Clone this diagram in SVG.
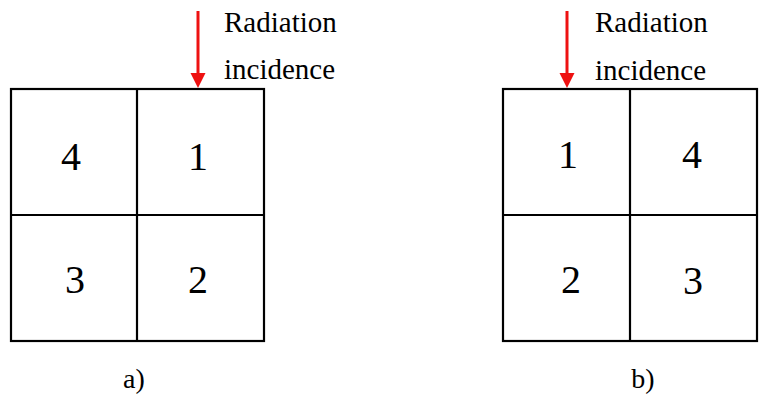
<svg xmlns="http://www.w3.org/2000/svg" width="759" height="394" viewBox="0 0 759 394">
  <style>
    .grid { fill: none; stroke: #000; stroke-width: 2.2; }
    .num { font-size: 40px; fill: #000; text-anchor: middle; }
    .lbl { font-size: 29px; fill: #000; }
    .cap { font-size: 28px; fill: #000; text-anchor: middle; }
    .ray { stroke: #ee1111; stroke-width: 3; }
    .head { fill: #ee1111; }
  </style>
  <rect width="759" height="394" fill="#fff"/>

  <!-- panel a: detector quadrants, beam on quadrant 1 (top right) -->
  <g id="panel-a" font-family="Liberation Serif, DejaVu Serif, serif">
    <rect class="grid" x="11" y="89" width="253" height="252"/>
    <line class="grid" x1="137" y1="89" x2="137" y2="341"/>
    <line class="grid" x1="11" y1="215" x2="264" y2="215"/>
    <text class="num" x="71" y="170">4</text>
    <text class="num" x="198" y="170">1</text>
    <text class="num" x="75" y="293">3</text>
    <text class="num" x="198" y="293">2</text>
    <text class="lbl" x="224" y="32">Radiation</text>
    <text class="lbl" x="224" y="79">incidence</text>
    <text class="cap" x="134" y="388">a)</text>
  </g>

  <!-- panel b: detector quadrants, beam on quadrant 1 (top left) -->
  <g id="panel-b" font-family="Liberation Serif, DejaVu Serif, serif">
    <rect class="grid" x="503" y="89" width="254" height="252"/>
    <line class="grid" x1="630" y1="89" x2="630" y2="341"/>
    <line class="grid" x1="503" y1="215" x2="757" y2="215"/>
    <text class="num" x="568" y="168">1</text>
    <text class="num" x="692" y="168">4</text>
    <text class="num" x="571" y="293">2</text>
    <text class="num" x="693" y="294">3</text>
    <text class="lbl" x="595" y="32">Radiation</text>
    <text class="lbl" x="595" y="80">incidence</text>
    <text class="cap" x="643" y="388">b)</text>
  </g>

  <!-- incident beam arrows -->
  <g id="connectors">
    <line class="ray" x1="198" y1="11" x2="198" y2="75"/>
    <polygon class="head" points="190.5,73 205.5,73 198,88"/>
    <line class="ray" x1="567" y1="11" x2="567" y2="75"/>
    <polygon class="head" points="559.5,73 574.5,73 567,88"/>
  </g>
</svg>
